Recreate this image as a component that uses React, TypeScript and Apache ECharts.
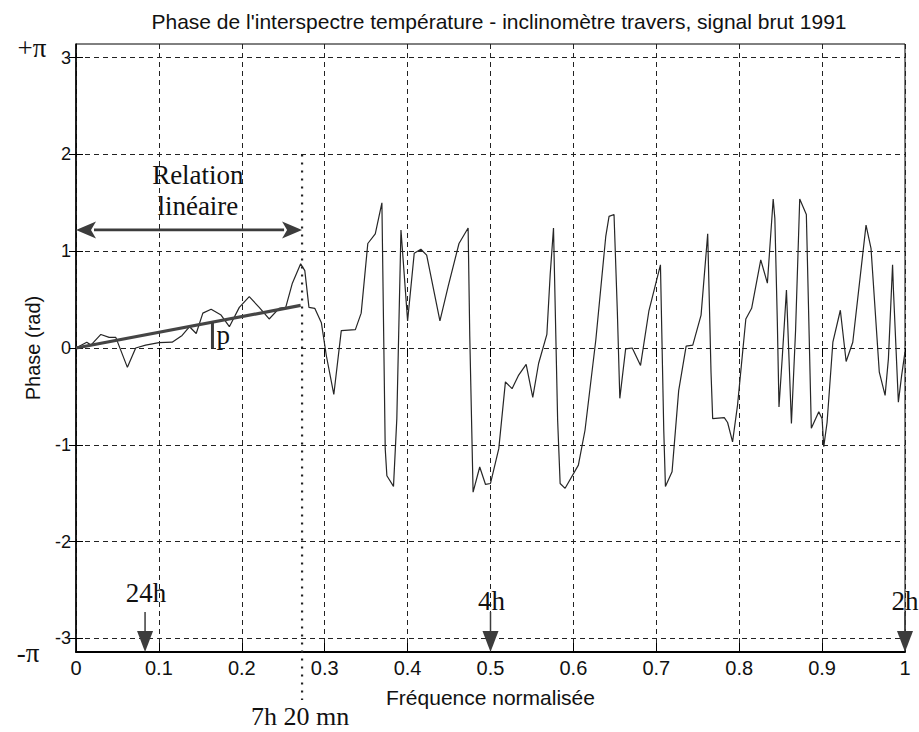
import React, { useEffect, useRef } from "react";
import * as echarts from "echarts";

const TITLE = "Phase de l'interspectre température - inclinomètre travers, signal brut 1991";
const X_NAME = "Fréquence normalisée";
const Y_NAME = "Phase (rad)";
const Y_TICKS = [-3, -2, -1, 0, 1, 2, 3];
const X_STEP = 0.1;

const freq = [
  0, 0.013, 0.018, 0.03, 0.04, 0.048, 0.062, 0.072, 0.084, 0.1, 0.116, 0.128, 0.137, 0.145, 0.153,
  0.163, 0.175, 0.185, 0.197, 0.209, 0.221, 0.233, 0.245, 0.253, 0.261, 0.271, 0.276, 0.281, 0.288,
  0.296, 0.302, 0.311, 0.32, 0.337, 0.344, 0.352, 0.361, 0.369, 0.373, 0.375, 0.383, 0.387, 0.392,
  0.4, 0.408, 0.416, 0.423, 0.439, 0.449, 0.462, 0.473, 0.475, 0.479, 0.487, 0.494, 0.5, 0.51,
  0.518, 0.526, 0.534, 0.543, 0.551, 0.558, 0.568, 0.572, 0.576, 0.581, 0.584, 0.59, 0.606, 0.614,
  0.627, 0.639, 0.643, 0.649, 0.653, 0.656, 0.663, 0.671, 0.681, 0.691, 0.705, 0.709, 0.711, 0.719,
  0.727, 0.736, 0.744, 0.754, 0.762, 0.766, 0.768, 0.782, 0.786, 0.792, 0.798, 0.808, 0.815, 0.826,
  0.834, 0.841, 0.843, 0.846, 0.848, 0.852, 0.857, 0.863, 0.868, 0.873, 0.881, 0.887, 0.896, 0.9,
  0.902, 0.906, 0.913, 0.922, 0.929, 0.937, 0.953, 0.959, 0.969, 0.976, 0.98, 0.985, 0.986, 0.992,
  0.996, 1.0,
];
const phase = [
  0, 0.06, 0.03, 0.14, 0.11, 0.11, -0.2, 0.0, 0.03, 0.055, 0.06, 0.13, 0.22, 0.15, 0.36,
  0.4, 0.34, 0.22, 0.42, 0.53, 0.42, 0.3, 0.41, 0.42, 0.67, 0.87, 0.8, 0.42, 0.41,
  0.26, -0.08, -0.48, 0.18, 0.19, 0.36, 1.08, 1.18, 1.5, -1.04, -1.32, -1.43, -0.73, 1.22,
  0.28, 0.98, 1.02, 0.96, 0.28, 0.64, 1.08, 1.24, 0.12, -1.49, -1.23, -1.41, -1.4, -1.04,
  -0.35, -0.42, -0.28, -0.17, -0.51, -0.16, 0.14, 0.76, 1.24, -0.75, -1.4, -1.45, -1.21, -0.85,
  0.08, 1.15, 1.36, 1.38, 0.38, -0.52, -0.01, 0.0, -0.18, 0.38, 0.86, -0.85, -1.43, -1.28,
  -0.44, 0.02, 0.03, 0.34, 1.18, -0.25, -0.73, -0.72, -0.77, -0.97, -0.59, 0.3, 0.41, 0.91,
  0.67, 1.54, 1.34, 0.27, -0.61, -0.09, 0.6, -0.78, 0.18, 1.54, 1.38, -0.83, -0.66, -0.73,
  -1.02, -0.77, 0.06, 0.39, -0.14, 0.06, 1.27, 1.03, -0.25, -0.49, -0.11, 0.86, 0.61, -0.56,
  -0.28, -0.04,
];

const fitFreq = [0, 0.271];
const fitPhase = [0, 0.44];

const CUTOFF_FREQ = 0.2727;
const CUTOFF_LABEL = "7h 20 mn";
const RELATION_LABEL = ["Relation", "linéaire"];
const RELATION_Y = 1.22;
const PERIOD_FREQ = [0.0833, 0.5, 1];
const PERIOD_LABELS = ["24h", "4h", "2h"];
const P_FREQ = 0.1646;
const P_LABEL = "p";
const PI_LABELS = ["+π", "-π"];

export default function App() {
  const ref = useRef<HTMLDivElement>(null);
  useEffect(() => {
    document.body.style.margin = "0";
    const chart = echarts.init(ref.current!, null, { renderer: "svg" });
    const PI = Math.PI;
    const sans = "'Liberation Sans', Arial, sans-serif";
    const serif = "'Liberation Serif', 'Times New Roman', serif";
    const ink = "#3c3c3c";
    const data = freq.map((f, i) => [f, phase[i]]);
    const fit = fitFreq.map((f, i) => [f, fitPhase[i]]);
    const gridDash = { color: "#222", type: [5, 4], width: 1 };

    chart.setOption({
      animation: false,
      backgroundColor: "#fff",
      title: {
        text: TITLE,
        left: 494,
        top: 6,
        textAlign: "center",
        textStyle: { fontFamily: sans, fontSize: 21, fontWeight: "normal", color: "#111" },
      },
      grid: {
        left: 76, right: 14, top: 44, bottom: 80,
        show: true, borderColor: "#000", borderWidth: 1, backgroundColor: "transparent",
      },
      xAxis: [
        {
          type: "value", min: 0, max: 1, interval: X_STEP,
          name: X_NAME, nameLocation: "middle", nameGap: 35,
          nameTextStyle: { fontFamily: sans, fontSize: 21, color: "#111" },
          axisLine: { show: true, onZero: false, lineStyle: { color: "#000", width: 2 } },
          axisTick: { show: true, inside: true, length: 9, lineStyle: { color: "#000" } },
          axisLabel: {
            margin: 6, fontSize: 20, color: "#111", fontFamily: sans,
            formatter: (v: number) => String(Math.round(v * 10) / 10),
          },
          splitLine: { show: true, lineStyle: gridDash },
        },
        {
          type: "value", position: "top", min: 0, max: 1, interval: X_STEP,
          axisLine: { show: false },
          axisTick: { show: true, inside: true, length: 9, lineStyle: { color: "#000" } },
          axisLabel: { show: false },
          splitLine: { show: false },
        },
      ],
      yAxis: [
        {
          type: "value", min: -PI, max: PI,
          name: Y_NAME, nameLocation: "middle", nameGap: 33,
          nameTextStyle: { fontFamily: sans, fontSize: 20, color: "#111" },
          axisLine: { show: true, onZero: false, lineStyle: { color: "#000", width: 1.5 } },
          axisTick: { show: true, inside: true, length: 7, customValues: Y_TICKS, lineStyle: { color: "#000" } },
          axisLabel: {
            margin: 5, fontSize: 18, color: "#111", fontFamily: sans, customValues: Y_TICKS,
            formatter: (v: number) => String(Math.round(v)),
          },
          splitLine: { show: true, lineStyle: gridDash },
        },
        {
          type: "value", position: "right", min: -PI, max: PI,
          axisLine: { show: false },
          axisTick: { show: true, inside: true, length: 7, customValues: Y_TICKS, lineStyle: { color: "#000" } },
          axisLabel: { show: false, customValues: Y_TICKS },
          splitLine: { show: false },
        },
      ],
      series: [
        {
          type: "line", xAxisIndex: 0, yAxisIndex: 0, data, showSymbol: false, symbol: "none",
          lineStyle: { color: "#262626", width: 1.2 }, z: 3,
        },
        {
          type: "line", xAxisIndex: 0, yAxisIndex: 0, data: fit, showSymbol: false, symbol: "none",
          lineStyle: { color: "#454545", width: 3.2 }, z: 4,
        },
      ],
    });

    const px = (x: number, y: number) =>
      chart.convertToPixel({ xAxisIndex: 0, yAxisIndex: 0 }, [x, y]) as number[];

    const g: any[] = [];
    // cutoff dotted line
    const cTop = px(CUTOFF_FREQ, 2);
    const cBot = px(CUTOFF_FREQ, -PI);
    g.push({
      type: "line", z: 10,
      shape: { x1: cTop[0], y1: cTop[1], x2: cBot[0], y2: cBot[1] + 48 },
      style: { stroke: "#222", lineWidth: 2.2, lineDash: [2, 6] },
    });
    g.push({
      type: "text", z: 10, x: cBot[0] - 2, y: cBot[1] + 64,
      style: { text: CUTOFF_LABEL, font: `26px ${serif}`, fill: "#111", align: "center", verticalAlign: "middle" },
    });
    // double arrow
    const aL = px(0, RELATION_Y);
    const aR = px(CUTOFF_FREQ, RELATION_Y);
    const hl = 20, hw = 8.5;
    g.push({
      type: "line", z: 10,
      shape: { x1: aL[0] + hl - 2, y1: aL[1], x2: aR[0] - hl + 2, y2: aR[1] },
      style: { stroke: ink, lineWidth: 2.8 },
    });
    g.push({
      type: "polygon", z: 10,
      shape: { points: [[aL[0], aL[1]], [aL[0] + hl, aL[1] - hw], [aL[0] + hl - 5, aL[1]], [aL[0] + hl, aL[1] + hw]] },
      style: { fill: ink },
    });
    g.push({
      type: "polygon", z: 10,
      shape: { points: [[aR[0], aR[1]], [aR[0] - hl, aR[1] - hw], [aR[0] - hl + 5, aR[1]], [aR[0] - hl, aR[1] + hw]] },
      style: { fill: ink },
    });
    const rc = px(0.147, 1.787);
    const rc2 = px(0.147, 1.467);
    g.push({
      type: "text", z: 10, x: rc[0], y: rc[1],
      style: { text: RELATION_LABEL[0], font: `27px ${serif}`, fill: "#111", align: "center", verticalAlign: "middle" },
    });
    g.push({
      type: "text", z: 10, x: rc2[0], y: rc2[1],
      style: { text: RELATION_LABEL[1], font: `27px ${serif}`, fill: "#111", align: "center", verticalAlign: "middle" },
    });
    // p bar
    const pFit = (fitPhase[1] * P_FREQ) / fitFreq[1];
    const pb = px(P_FREQ, 0);
    const pt = px(P_FREQ, pFit);
    g.push({
      type: "line", z: 10,
      shape: { x1: pb[0], y1: pb[1], x2: pt[0], y2: pt[1] },
      style: { stroke: ink, lineWidth: 3 },
    });
    g.push({
      type: "text", z: 10, x: pb[0] + 4, y: pb[1] - 13,
      style: { text: P_LABEL, font: `27px ${serif}`, fill: "#111", align: "left", verticalAlign: "middle" },
    });
    // period arrows
    PERIOD_FREQ.forEach((f, i) => {
      const tip = px(f, -PI);
      const lift = i === 0 ? 59 : 51;
      g.push({
        type: "line", z: 10,
        shape: { x1: tip[0], y1: tip[1] - 40, x2: tip[0], y2: tip[1] - 18 },
        style: { stroke: ink, lineWidth: 1.5 },
      });
      g.push({
        type: "polygon", z: 10,
        shape: { points: [[tip[0] - 8, tip[1] - 21], [tip[0] + 8, tip[1] - 21], [tip[0], tip[1]]] },
        style: { fill: ink },
      });
      g.push({
        type: "text", z: 10, x: tip[0] + (i === 2 ? 0 : 1), y: tip[1] - lift,
        style: { text: PERIOD_LABELS[i], font: `27px ${serif}`, fill: "#111", align: "center", verticalAlign: "middle" },
      });
    });
    // ±π labels
    const top = px(0, PI);
    const bot = px(0, -PI);
    g.push({
      type: "text", z: 10, x: top[0] - 44, y: top[1] + 4,
      style: { text: PI_LABELS[0], font: `27px ${serif}`, fill: "#111", align: "center", verticalAlign: "middle" },
    });
    g.push({
      type: "text", z: 10, x: bot[0] - 48, y: bot[1] + 1,
      style: { text: PI_LABELS[1], font: `27px ${serif}`, fill: "#111", align: "center", verticalAlign: "middle" },
    });

    chart.setOption({ graphic: g });
    return () => chart.dispose();
  }, []);
  return <div ref={ref} style={{ position: "fixed", left: 0, top: 0, width: 919, height: 732 }} />;
}
